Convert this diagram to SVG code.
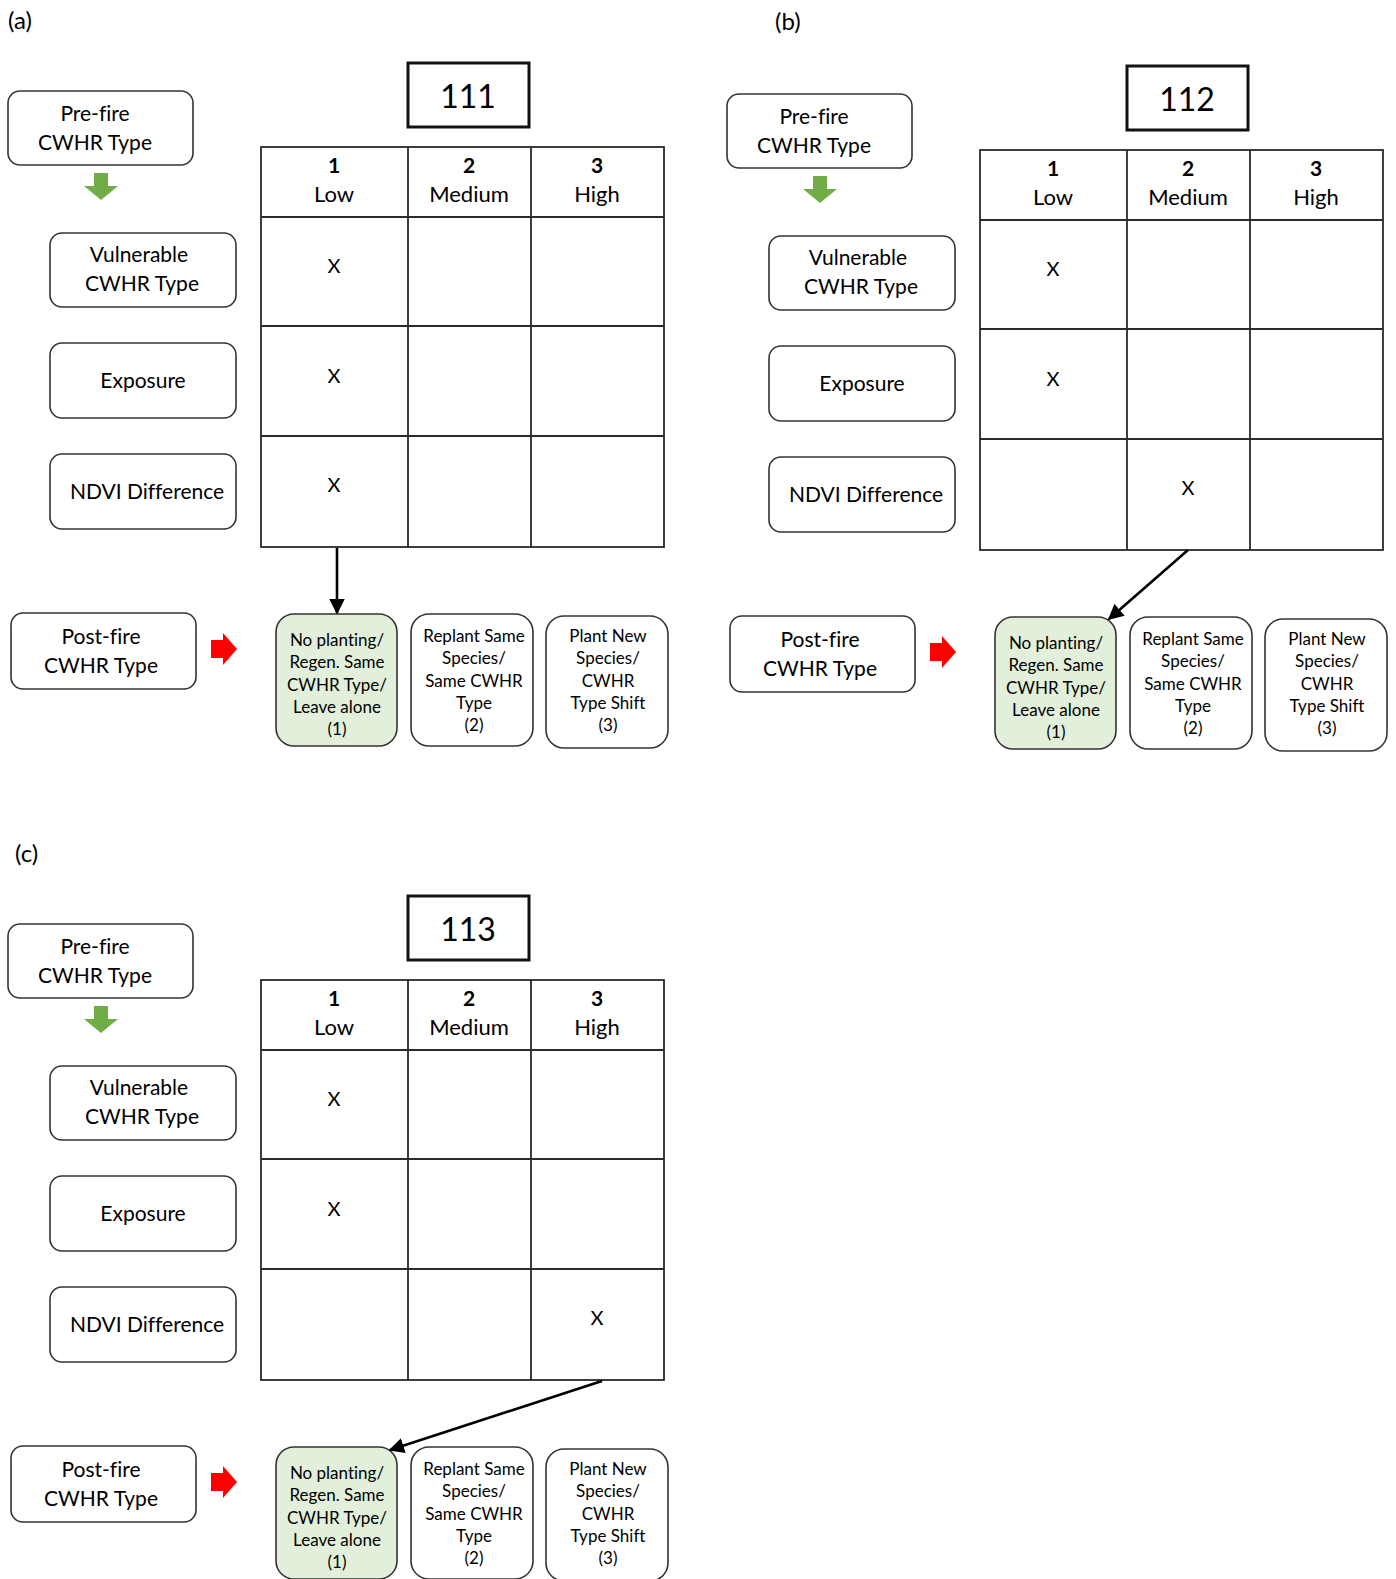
<svg xmlns="http://www.w3.org/2000/svg" width="1396" height="1579" viewBox="0 0 1396 1579">
<style>
text{font-family:Lato,"Liberation Sans","DejaVu Sans",sans-serif;fill:#000;text-anchor:middle;font-variant-ligatures:none}
.lab{font-size:24px;text-anchor:start}
.box{fill:#fff;stroke:#333;stroke-width:1.6}
.bt{font-size:21px}
.opt{fill:#fff;stroke:#333;stroke-width:1.6}
.opt1{fill:#e2efda;stroke:#333;stroke-width:1.6}
.ot{font-size:17px}
.code{fill:#fff;stroke:#111;stroke-width:3}
.ct{font-size:32px}
.tbl{fill:none;stroke:#2a2a2a;stroke-width:1.8}
.hn{font-size:21px;font-weight:bold}
.ht{font-size:22px}
.x{font-size:20px}
.green{fill:#70ad47}
.red{fill:#ff0000}
.conn{stroke:#000;stroke-width:2.6;fill:none;marker-end:url(#ah)}
</style>
<defs>
<marker id="ah" viewBox="0 0 10 10" refX="9" refY="5" markerWidth="6" markerHeight="6" orient="auto" markerUnits="strokeWidth">
<path d="M0,0 L10,5 L0,10 z" fill="#000"/>
</marker>
</defs>
<rect width="1396" height="1579" fill="#fff"/>

<!-- Panel (a) -->
<g id="panel-a">
<text class="lab" x="8" y="29">(a)</text>
<g id="a-prefire"><rect class="box" x="8" y="91" width="185" height="74" rx="12"/><text class="bt" x="95" y="121">Pre-fire</text><text class="bt" x="95" y="150">CWHR Type</text></g>
<g id="a-greenarrow"><polygon class="green" points="94,173 108,173 108,186 118,186 101,200 84,186 94,186"/></g>
<g id="a-vuln"><rect class="box" x="50" y="233" width="186" height="74" rx="12"/><text class="bt" x="139" y="262">Vulnerable</text><text class="bt" x="142" y="291">CWHR Type</text></g>
<g id="a-exposure"><rect class="box" x="50" y="343" width="186" height="75" rx="12"/><text class="bt" x="143" y="388">Exposure</text></g>
<g id="a-ndvi"><rect class="box" x="50" y="454" width="186" height="75" rx="12"/><text class="bt" x="147" y="499">NDVI Difference</text></g>
<g id="a-postfire"><rect class="box" x="11" y="613" width="185" height="76" rx="12"/><text class="bt" x="101" y="644">Post-fire</text><text class="bt" x="101" y="673">CWHR Type</text></g>
<g id="a-redarrow"><polygon class="red" points="211,640 223,640 223,633 237,649 223,665 223,658 211,658"/></g>
<g id="a-code"><rect class="code" x="408" y="63" width="121" height="64"/><text class="ct" x="468" y="108">111</text></g>
<g id="a-table">
<rect class="tbl" x="261" y="147" width="403" height="400"/>
<path class="tbl" d="M408,147V547M531,147V547M261,217H664M261,326H664M261,436H664"/>
<text class="hn" x="334" y="173">1</text><text class="ht" x="334" y="202">Low</text>
<text class="hn" x="469" y="173">2</text><text class="ht" x="469" y="202">Medium</text>
<text class="hn" x="597" y="173">3</text><text class="ht" x="597" y="202">High</text>
<text class="x" x="334" y="273">X</text>
<text class="x" x="334" y="383">X</text>
<text class="x" x="334" y="492">X</text>
</g>
<g id="a-opt1"><rect class="opt1" x="276" y="614" width="121" height="132" rx="18"/><text class="ot" x="337" y="646">No planting/</text><text class="ot" x="337" y="668">Regen. Same</text><text class="ot" x="337" y="691">CWHR Type/</text><text class="ot" x="337" y="713">Leave alone</text><text class="ot" x="337" y="735">(1)</text></g>
<g id="a-opt2"><rect class="opt" x="411" y="614" width="122" height="132" rx="18"/><text class="ot" x="474" y="642">Replant Same</text><text class="ot" x="474" y="664">Species/</text><text class="ot" x="474" y="687">Same CWHR</text><text class="ot" x="474" y="709">Type</text><text class="ot" x="474" y="731">(2)</text></g>
<g id="a-opt3"><rect class="opt" x="546" y="616" width="122" height="132" rx="18"/><text class="ot" x="608" y="642">Plant New</text><text class="ot" x="608" y="664">Species/</text><text class="ot" x="608" y="687">CWHR</text><text class="ot" x="608" y="709">Type Shift</text><text class="ot" x="608" y="731">(3)</text></g>
<g id="a-connectors"><line class="conn" x1="337" y1="548" x2="337" y2="613"/></g>
</g>

<!-- Panel (b) -->
<g id="panel-b">
<text class="lab" x="775" y="30">(b)</text>
<g transform="translate(719,3)">
<g id="b-prefire"><rect class="box" x="8" y="91" width="185" height="74" rx="12"/><text class="bt" x="95" y="121">Pre-fire</text><text class="bt" x="95" y="150">CWHR Type</text></g>
<g id="b-greenarrow"><polygon class="green" points="94,173 108,173 108,186 118,186 101,200 84,186 94,186"/></g>
<g id="b-vuln"><rect class="box" x="50" y="233" width="186" height="74" rx="12"/><text class="bt" x="139" y="262">Vulnerable</text><text class="bt" x="142" y="291">CWHR Type</text></g>
<g id="b-exposure"><rect class="box" x="50" y="343" width="186" height="75" rx="12"/><text class="bt" x="143" y="388">Exposure</text></g>
<g id="b-ndvi"><rect class="box" x="50" y="454" width="186" height="75" rx="12"/><text class="bt" x="147" y="499">NDVI Difference</text></g>
<g id="b-postfire"><rect class="box" x="11" y="613" width="185" height="76" rx="12"/><text class="bt" x="101" y="644">Post-fire</text><text class="bt" x="101" y="673">CWHR Type</text></g>
<g id="b-redarrow"><polygon class="red" points="211,640 223,640 223,633 237,649 223,665 223,658 211,658"/></g>
<g id="b-code"><rect class="code" x="408" y="63" width="121" height="64"/><text class="ct" x="468" y="108">112</text></g>
<g id="b-table">
<rect class="tbl" x="261" y="147" width="403" height="400"/>
<path class="tbl" d="M408,147V547M531,147V547M261,217H664M261,326H664M261,436H664"/>
<text class="hn" x="334" y="173">1</text><text class="ht" x="334" y="202">Low</text>
<text class="hn" x="469" y="173">2</text><text class="ht" x="469" y="202">Medium</text>
<text class="hn" x="597" y="173">3</text><text class="ht" x="597" y="202">High</text>
<text class="x" x="334" y="273">X</text>
<text class="x" x="334" y="383">X</text>
<text class="x" x="469" y="492">X</text>
</g>
<g id="b-opt1"><rect class="opt1" x="276" y="614" width="121" height="132" rx="18"/><text class="ot" x="337" y="646">No planting/</text><text class="ot" x="337" y="668">Regen. Same</text><text class="ot" x="337" y="691">CWHR Type/</text><text class="ot" x="337" y="713">Leave alone</text><text class="ot" x="337" y="735">(1)</text></g>
<g id="b-opt2"><rect class="opt" x="411" y="614" width="122" height="132" rx="18"/><text class="ot" x="474" y="642">Replant Same</text><text class="ot" x="474" y="664">Species/</text><text class="ot" x="474" y="687">Same CWHR</text><text class="ot" x="474" y="709">Type</text><text class="ot" x="474" y="731">(2)</text></g>
<g id="b-opt3"><rect class="opt" x="546" y="616" width="122" height="132" rx="18"/><text class="ot" x="608" y="642">Plant New</text><text class="ot" x="608" y="664">Species/</text><text class="ot" x="608" y="687">CWHR</text><text class="ot" x="608" y="709">Type Shift</text><text class="ot" x="608" y="731">(3)</text></g>
<g id="b-connectors"><line class="conn" x1="469" y1="547" x2="390" y2="616"/></g>
</g>
</g>

<!-- Panel (c) -->
<g id="panel-c">
<text class="lab" x="15" y="862">(c)</text>
<g transform="translate(0,833)">
<g id="c-prefire"><rect class="box" x="8" y="91" width="185" height="74" rx="12"/><text class="bt" x="95" y="121">Pre-fire</text><text class="bt" x="95" y="150">CWHR Type</text></g>
<g id="c-greenarrow"><polygon class="green" points="94,173 108,173 108,186 118,186 101,200 84,186 94,186"/></g>
<g id="c-vuln"><rect class="box" x="50" y="233" width="186" height="74" rx="12"/><text class="bt" x="139" y="262">Vulnerable</text><text class="bt" x="142" y="291">CWHR Type</text></g>
<g id="c-exposure"><rect class="box" x="50" y="343" width="186" height="75" rx="12"/><text class="bt" x="143" y="388">Exposure</text></g>
<g id="c-ndvi"><rect class="box" x="50" y="454" width="186" height="75" rx="12"/><text class="bt" x="147" y="499">NDVI Difference</text></g>
<g id="c-postfire"><rect class="box" x="11" y="613" width="185" height="76" rx="12"/><text class="bt" x="101" y="644">Post-fire</text><text class="bt" x="101" y="673">CWHR Type</text></g>
<g id="c-redarrow"><polygon class="red" points="211,640 223,640 223,633 237,649 223,665 223,658 211,658"/></g>
<g id="c-code"><rect class="code" x="408" y="63" width="121" height="64"/><text class="ct" x="468" y="108">113</text></g>
<g id="c-table">
<rect class="tbl" x="261" y="147" width="403" height="400"/>
<path class="tbl" d="M408,147V547M531,147V547M261,217H664M261,326H664M261,436H664"/>
<text class="hn" x="334" y="173">1</text><text class="ht" x="334" y="202">Low</text>
<text class="hn" x="469" y="173">2</text><text class="ht" x="469" y="202">Medium</text>
<text class="hn" x="597" y="173">3</text><text class="ht" x="597" y="202">High</text>
<text class="x" x="334" y="273">X</text>
<text class="x" x="334" y="383">X</text>
<text class="x" x="597" y="492">X</text>
</g>
<g id="c-opt1"><rect class="opt1" x="276" y="614" width="121" height="132" rx="18"/><text class="ot" x="337" y="646">No planting/</text><text class="ot" x="337" y="668">Regen. Same</text><text class="ot" x="337" y="691">CWHR Type/</text><text class="ot" x="337" y="713">Leave alone</text><text class="ot" x="337" y="735">(1)</text></g>
<g id="c-opt2"><rect class="opt" x="411" y="614" width="122" height="132" rx="18"/><text class="ot" x="474" y="642">Replant Same</text><text class="ot" x="474" y="664">Species/</text><text class="ot" x="474" y="687">Same CWHR</text><text class="ot" x="474" y="709">Type</text><text class="ot" x="474" y="731">(2)</text></g>
<g id="c-opt3"><rect class="opt" x="546" y="616" width="122" height="132" rx="18"/><text class="ot" x="608" y="642">Plant New</text><text class="ot" x="608" y="664">Species/</text><text class="ot" x="608" y="687">CWHR</text><text class="ot" x="608" y="709">Type Shift</text><text class="ot" x="608" y="731">(3)</text></g>
<g id="c-connectors"><line class="conn" x1="602" y1="548" x2="390" y2="617"/></g>
</g>
</g>
</svg>
